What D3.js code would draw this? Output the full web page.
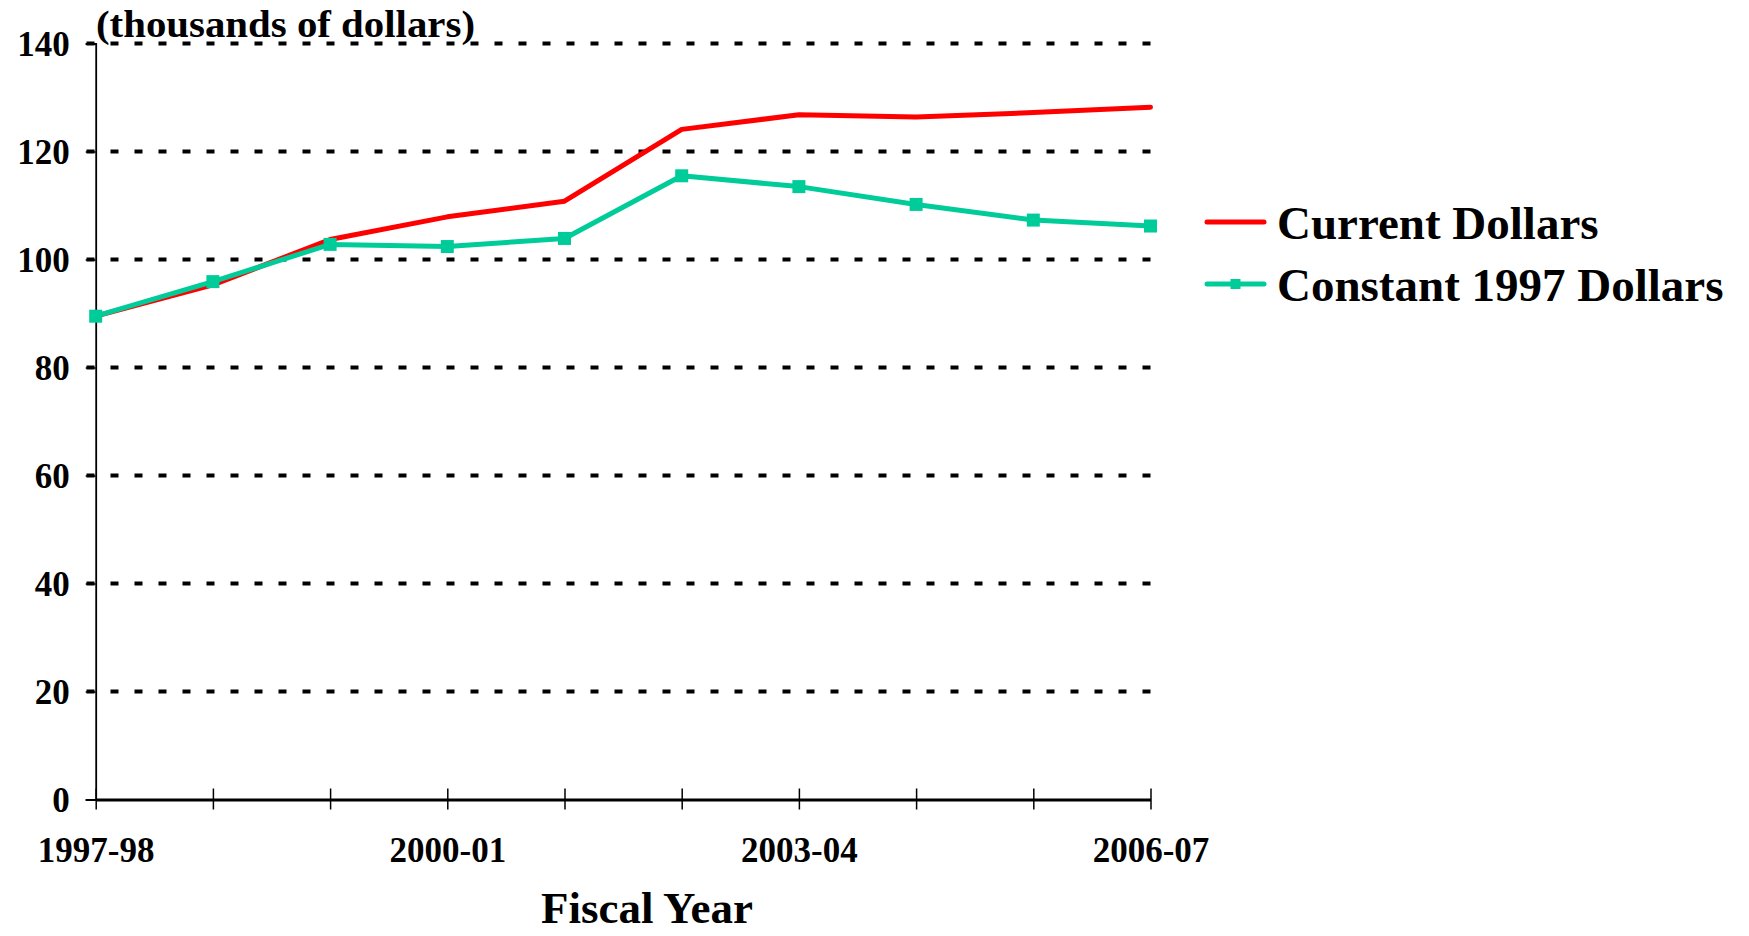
<!DOCTYPE html>
<html><head><meta charset="utf-8">
<script src="https://cdn.jsdelivr.net/npm/d3@7"></script>
<style>
html,body{margin:0;padding:0;background:#fff;}
text{font-family:"Liberation Serif","Times New Roman",serif;font-weight:bold;fill:#000;}
</style></head>
<body>
<svg id="chart" width="1749" height="936"></svg>
<script>
const categories = ["1997-98","1998-99","1999-00","2000-01","2001-02","2002-03","2003-04","2004-05","2005-06","2006-07"];
const currentDollars = [89.5, 95.3, 103.7, 107.9, 110.8, 124.1, 126.8, 126.4, 127.2, 128.2];
const constant1997 = [89.5, 95.9, 102.8, 102.4, 103.9, 115.5, 113.5, 110.2, 107.3, 106.2];
const yTicks = [0,20,40,60,80,100,120,140];
const xLabelCats = ["1997-98","2000-01","2003-04","2006-07"];
const seriesNames = ["Current Dollars","Constant 1997 Dollars"];
const colors = ["#FF0000","#00CC99"];

const svg = d3.select("#chart");
const x = d3.scalePoint().domain(categories).range([95.7, 1150.5]);
const y = d3.scaleLinear().domain([0,140]).range([799.5, 43.5]);

// gridlines (drawn right to left so a dash ends at the right edge)
svg.append("g").selectAll("line").data(yTicks.filter(d=>d>0)).join("line")
  .attr("x1", x.range()[1]).attr("x2", x.range()[0] - 10)
  .attr("y1", d=>y(d)).attr("y2", d=>y(d))
  .attr("stroke","#000").attr("stroke-width",4).attr("stroke-dasharray","8,16");

// y axis
const yAxis = svg.append("g").attr("transform",`translate(${x.range()[0]},0)`)
  .call(d3.axisLeft(y).tickValues(yTicks).tickSize(10).tickPadding(16).tickFormat(d3.format("d")));
yAxis.select(".domain").attr("stroke","#000").attr("stroke-width",1.8);
yAxis.selectAll(".tick line").attr("stroke","#000").attr("stroke-width",1.5);
yAxis.selectAll(".tick text").style("font-size","35px").attr("dy","0.35em");

// x axis
const xAxis = svg.append("g").attr("transform",`translate(0,${y(0)})`)
  .call(d3.axisBottom(x).tickSize(0).tickFormat(d => xLabelCats.includes(d) ? d : ""));
xAxis.select(".domain").attr("stroke","#000").attr("stroke-width",2.8);
xAxis.selectAll(".tick text").style("font-size","35px").attr("y",62).attr("dy",0);
xAxis.selectAll(".tick").append("line").attr("y1",-11).attr("y2",10)
  .attr("stroke","#000").attr("stroke-width",1.5);

// lines
const line = d3.line().x((d,i)=>x(categories[i])).y(d=>y(d));
svg.append("path").datum(currentDollars).attr("d",line)
  .attr("fill","none").attr("stroke",colors[0]).attr("stroke-width",5).attr("stroke-linejoin","round").attr("stroke-linecap","round");
svg.append("path").datum(constant1997).attr("d",line)
  .attr("fill","none").attr("stroke",colors[1]).attr("stroke-width",5).attr("stroke-linejoin","round");
svg.append("g").selectAll("rect").data(constant1997).join("rect")
  .attr("x",(d,i)=>x(categories[i])-6.5).attr("y",d=>y(d)-6.5)
  .attr("width",13).attr("height",13).attr("fill",colors[1]);

// unit label
svg.append("text").attr("x",96).attr("y",37).style("font-size","38px")
  .attr("textLength",379).attr("lengthAdjust","spacingAndGlyphs").text("(thousands of dollars)");

// x title
svg.append("text").attr("x",647).attr("y",923).attr("text-anchor","middle")
  .style("font-size","45px").text("Fiscal Year");

// legend
const lg = svg.append("g");
const legY = [222, 284];
const legBase = [239, 301];
seriesNames.forEach((name,i)=>{
  lg.append("line").attr("x1",1207).attr("x2",1264).attr("y1",legY[i]).attr("y2",legY[i])
    .attr("stroke",colors[i]).attr("stroke-width",5).attr("stroke-linecap","round");
  if(i===1){
    lg.append("rect").attr("x",1230.5).attr("y",legY[i]-5).attr("width",10).attr("height",10).attr("fill",colors[i]);
  }
  lg.append("text").attr("x",1277).attr("y",legBase[i]).style("font-size","47px").text(name);
});
</script>
</body></html>
